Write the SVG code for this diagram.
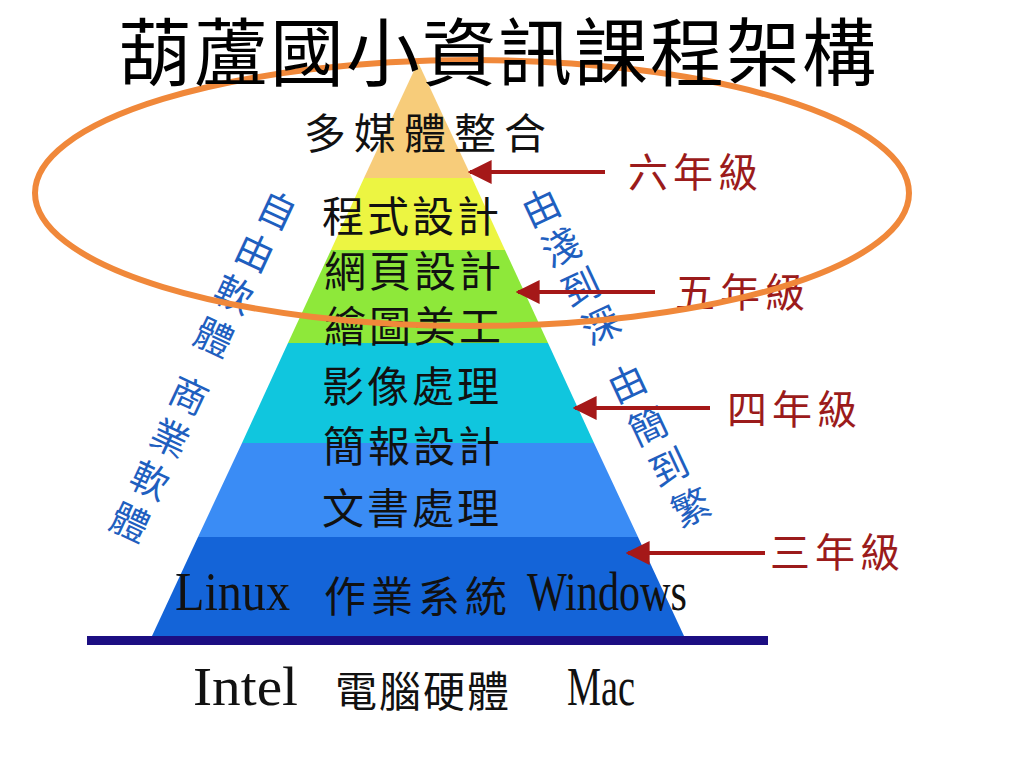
<svg xmlns="http://www.w3.org/2000/svg" width="1024" height="768" viewBox="0 0 1024 768">
<defs>
<marker id="ah" viewBox="0 0 10 10" refX="9" refY="5" markerWidth="6" markerHeight="6" markerUnits="strokeWidth" orient="auto">
<path d="M0,0 L10,5 L0,10 z" fill="#A51818"/>
</marker>
</defs>
<style>
.cjk{font-family:"Noto Sans CJK TC","Noto Sans CJK SC",sans-serif;}
.layer{font-family:"Noto Sans CJK TC",sans-serif;font-size:42px;fill:#111;text-anchor:middle;letter-spacing:3px;}
.lat{font-family:"Liberation Serif",serif;font-size:54px;fill:#111;}
.blue{font-family:"Noto Sans CJK TC",sans-serif;font-size:38px;fill:#1F5FBF;text-anchor:middle;dominant-baseline:central;}
.grade{font-family:"Noto Sans CJK TC",sans-serif;font-size:40px;fill:#9B1B1B;letter-spacing:5px;}
.arrow{stroke:#A51818;stroke-width:4;fill:none;marker-end:url(#ah);}
</style>
<rect width="1024" height="768" fill="#ffffff"/>
<g id="pyramid">
<polygon points="418,62 472,178 364,178" fill="#F7CC7A"/>
<polygon points="364,178 472,178 505,250 331,250" fill="#ECF542"/>
<polygon points="331,250 505,250 548,343 288,343" fill="#8EE83A"/>
<polygon points="288,343 548,343 594,443 242,443" fill="#10C6DE"/>
<polygon points="242,443 594,443 638,537 198,537" fill="#3A8CF5"/>
<polygon points="198,537 638,537 684,636 152,636" fill="#1464D8"/>
<rect x="87" y="636" width="681" height="9" fill="#1C0E82"/>
</g>
<g id="layer-texts">
<text class="layer" x="429" y="149" style="letter-spacing:8px">多媒體整合</text>
<text class="layer" x="412" y="232">程式設計</text>
<text class="layer" x="414" y="287">網頁設計</text>
<text class="layer" x="414" y="342">繪圖美工</text>
<text class="layer" x="412" y="402">影像處理</text>
<text class="layer" x="413" y="462">簡報設計</text>
<text class="layer" x="412" y="524">文書處理</text>
</g>
<g id="os">
<text class="lat" x="175" y="610" textLength="115" lengthAdjust="spacingAndGlyphs">Linux</text>
<text class="layer" x="418" y="612" style="letter-spacing:5px">作業系統</text>
<text class="lat" x="527" y="610" textLength="160" lengthAdjust="spacingAndGlyphs">Windows</text>
</g>
<g id="hardware">
<text class="lat" x="193" y="705" textLength="105" lengthAdjust="spacingAndGlyphs">Intel</text>
<text class="layer" x="423" y="707" style="letter-spacing:2px">電腦硬體</text>
<text class="lat" x="567" y="705" textLength="68" lengthAdjust="spacingAndGlyphs">Mac</text>
</g>
<g id="free-software">
<text class="blue" transform="translate(278,208) rotate(25)">自</text>
<text class="blue" transform="translate(256,250) rotate(25)">由</text>
<text class="blue" transform="translate(235,292) rotate(25)">軟</text>
<text class="blue" transform="translate(215,335) rotate(25)">體</text>
</g>
<g id="commercial-software">
<text class="blue" transform="translate(190,393) rotate(25)">商</text>
<text class="blue" transform="translate(171,436) rotate(25)">業</text>
<text class="blue" transform="translate(151,478) rotate(25)">軟</text>
<text class="blue" transform="translate(131,520) rotate(25)">體</text>
</g>
<g id="shallow-deep">
<text class="blue" transform="translate(540,205) rotate(-25)">由</text>
<text class="blue" transform="translate(560,245) rotate(-25)">淺</text>
<text class="blue" transform="translate(580,285) rotate(-25)">到</text>
<text class="blue" transform="translate(600,323) rotate(-25)">深</text>
</g>
<g id="simple-complex">
<text class="blue" transform="translate(626,381) rotate(-25)">由</text>
<text class="blue" transform="translate(647,424) rotate(-25)">簡</text>
<text class="blue" transform="translate(668,465) rotate(-25)">到</text>
<text class="blue" transform="translate(690,505) rotate(-25)">繁</text>
</g>
<g id="connectors">
<line class="arrow" x1="605" y1="172" x2="470" y2="172"/>
<line class="arrow" x1="655" y1="292" x2="518" y2="292"/>
<line class="arrow" x1="710" y1="408" x2="575" y2="408"/>
<line class="arrow" x1="765" y1="553" x2="628" y2="553"/>
</g>
<g id="grades">
<text class="grade" x="628" y="187">六年級</text>
<text class="grade" x="675" y="307">五年級</text>
<text class="grade" x="727" y="424">四年級</text>
<text class="grade" x="770" y="567">三年級</text>
</g>
<g id="highlight">
<ellipse cx="472" cy="193" rx="437" ry="133" fill="none" stroke="#F0883A" stroke-width="6"/>
</g>
<g id="title">
<text class="cjk" x="498" y="80" font-size="74" text-anchor="middle" fill="#000" letter-spacing="2">葫蘆國小資訊課程架構</text>
</g>
</svg>
